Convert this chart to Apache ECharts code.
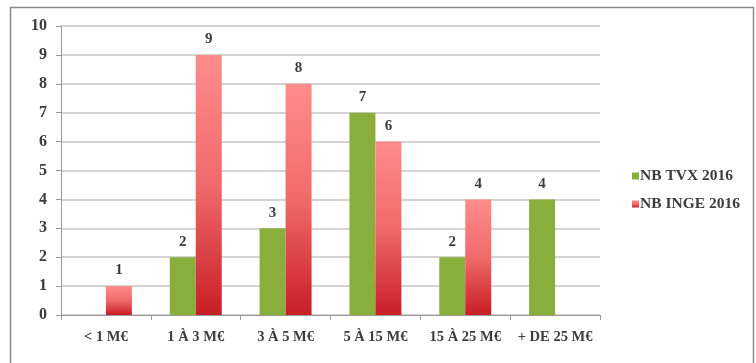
<!DOCTYPE html>
<html>
<head>
<meta charset="utf-8">
<style>
  html, body { margin: 0; padding: 0; background: #fff; }
  #chart { width: 756px; height: 363px; }
</style>
<script src="https://cdn.jsdelivr.net/npm/echarts@6/dist/echarts.min.js"></script>
</head>
<body>
<div id="chart"></div>
<script>
// Tranches de montant
const categories = ['< 1 M€', '1 À 3 M€', '3 À 5 M€', '5 À 15 M€', '15 À 25 M€', '+ DE 25 M€'];
const seriesNames = ['NB TVX 2016', 'NB INGE 2016'];
const nbTvx = [null, 2, 3, 7, 2, 4];
const nbInge = [1, 9, 8, 6, 4, null];
const yTicks = [0, 10, 1];

const font = 'Liberation Serif';
const textColor = '#3c3c3c';

const chart = echarts.init(document.getElementById('chart'));

const redGradient = new echarts.graphic.LinearGradient(0, 0, 0, 1, [
  { offset: 0, color: '#ff8c8c' },
  { offset: 0.5, color: '#f06a6a' },
  { offset: 1, color: '#c81e26' }
]);

const valueLabel = {
  show: true, position: 'top', distance: 8,
  fontFamily: font, fontSize: 15, fontWeight: 'bold', color: textColor
};

chart.setOption({
  animation: false,
  backgroundColor: '#fff',
  graphic: [{
    type: 'rect',
    shape: { x: 10.5, y: 7.5, width: 743, height: 380 },
    style: { fill: 'none', stroke: '#8c8c8c', lineWidth: 1.5 },
    z: -1
  }],
  grid: { left: 61, top: 26, width: 539, height: 289, containLabel: false },
  legend: {
    orient: 'vertical',
    left: 627,
    top: 163,
    itemWidth: 7,
    itemHeight: 7,
    itemGap: 12,
    icon: 'rect',
    textStyle: { fontFamily: font, fontSize: 15.5, fontWeight: 'bold', color: textColor, padding: [0, 0, 0, -4] },
    data: seriesNames
  },
  xAxis: {
    type: 'category',
    data: categories,
    axisLine: { lineStyle: { color: '#9a9a9a', width: 1 } },
    axisTick: { show: true, length: 5, lineStyle: { color: '#9a9a9a' } },
    axisLabel: {
      interval: 0, hideOverlap: false,
      fontFamily: font, fontSize: 14.5, fontWeight: 'bold', color: textColor, margin: 15
    }
  },
  yAxis: {
    type: 'value',
    min: yTicks[0],
    max: yTicks[1],
    interval: yTicks[2],
    axisLine: { show: true, lineStyle: { color: '#9a9a9a' } },
    axisTick: { show: true, length: 5, lineStyle: { color: '#9a9a9a' } },
    splitLine: { lineStyle: { color: '#c6c6c6', width: 1.5 } },
    axisLabel: { fontFamily: font, fontSize: 16, fontWeight: 'bold', color: textColor, margin: 14 }
  },
  series: [
    {
      name: seriesNames[0],
      type: 'bar',
      data: nbTvx,
      barWidth: 26,
      barGap: '0%',
      itemStyle: { color: '#8aae3c' },
      label: valueLabel
    },
    {
      name: seriesNames[1],
      type: 'bar',
      data: nbInge,
      barWidth: 26,
      itemStyle: { color: redGradient },
      label: valueLabel
    }
  ]
});
</script>
</body>
</html>
